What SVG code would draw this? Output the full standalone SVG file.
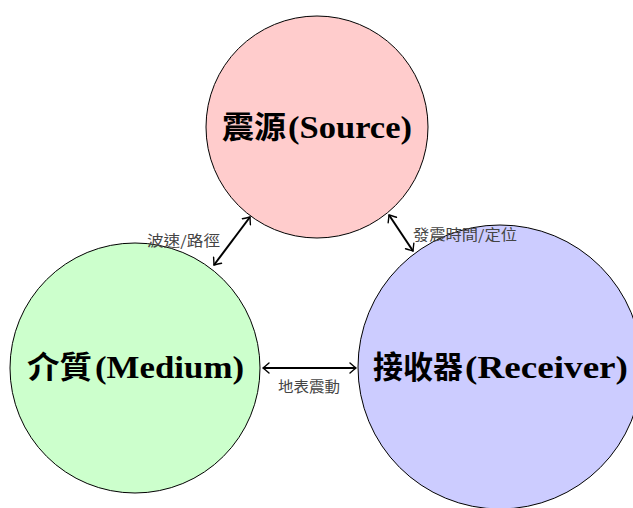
<svg xmlns="http://www.w3.org/2000/svg" width="633" height="508" viewBox="0 0 633 508">
<defs>
<marker id="ah" viewBox="-7 -6 9 12" refX="0" refY="0" markerWidth="9" markerHeight="12" markerUnits="userSpaceOnUse" orient="auto-start-reverse">
<path d="M-6,-5 Q-1.5,-1.2 0,0 Q-1.5,1.2 -6,5" fill="none" stroke="#000" stroke-width="1.4" stroke-linecap="round"/>
</marker>
</defs>
<style>
.node{stroke:#000;stroke-width:1}
.title{font-family:"Liberation Serif","Noto Sans CJK TC",serif;font-weight:bold;font-size:32px;fill:#000}
.cjk{font-family:"Noto Sans CJK TC",sans-serif;font-weight:bold;font-size:31px}
.lbl{font-family:"Noto Sans CJK TC",sans-serif;font-size:14.5px;fill:#444}
.conn{stroke:#000;stroke-width:2;fill:none;marker-start:url(#ah);marker-end:url(#ah)}
</style>
<g id="source">
<circle class="node" cx="317" cy="127" r="111" fill="#ffcccc"/>
<text class="title" y="138"><tspan class="cjk" x="222" textLength="64" lengthAdjust="spacingAndGlyphs">震源</tspan><tspan x="288" textLength="124" lengthAdjust="spacingAndGlyphs">(Source)</tspan></text>
</g>
<g id="medium">
<circle class="node" cx="135" cy="368" r="125" fill="#ccffcc"/>
<text class="title" y="378"><tspan class="cjk" x="27" textLength="65" lengthAdjust="spacingAndGlyphs">介質</tspan><tspan x="95" textLength="149" lengthAdjust="spacingAndGlyphs">(Medium)</tspan></text>
</g>
<g id="receiver">
<circle class="node" cx="500" cy="367" r="142" fill="#ccccff"/>
<text class="title" y="378"><tspan class="cjk" x="373" textLength="90" lengthAdjust="spacingAndGlyphs">接收器</tspan><tspan x="465" textLength="163" lengthAdjust="spacingAndGlyphs">(Receiver)</tspan></text>
</g>
<g id="connectors">
<line class="conn" x1="250" y1="217" x2="214" y2="265"/>
<line class="conn" x1="389" y1="215" x2="413" y2="251"/>
<line class="conn" x1="263" y1="368" x2="356" y2="368"/>
<text class="lbl" x="147" y="246" textLength="73" lengthAdjust="spacingAndGlyphs">波速/路徑</text>
<text class="lbl" x="413" y="240" textLength="104" lengthAdjust="spacingAndGlyphs">發震時間/定位</text>
<text class="lbl" x="278" y="392" textLength="62" lengthAdjust="spacingAndGlyphs">地表震動</text>
</g>
</svg>
